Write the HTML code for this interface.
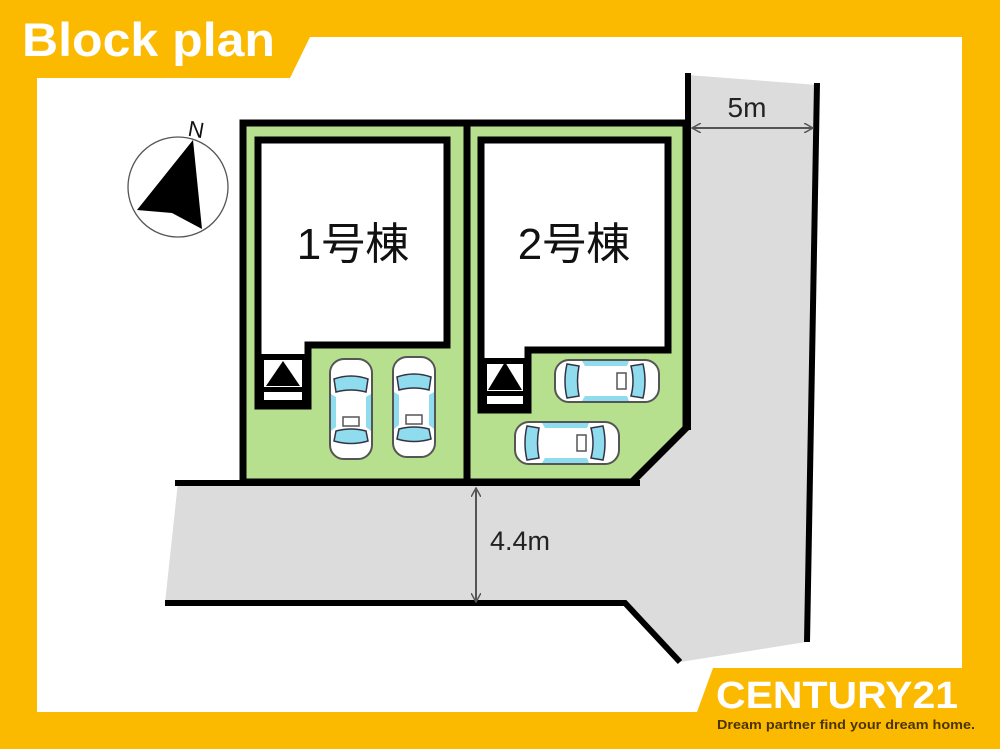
<!DOCTYPE html>
<html><head><meta charset="utf-8"><style>
html,body{margin:0;padding:0;width:1000px;height:749px;overflow:hidden;background:#FBB900}
svg{display:block}
</style></head><body>
<svg width="1000" height="749" viewBox="0 0 1000 749" xmlns="http://www.w3.org/2000/svg">
<defs>
<g id="carV">
  <rect x="-21" y="-50" width="42" height="100" rx="14" fill="#fff" stroke="#555" stroke-width="2"/>
  <path d="M-17,-30 Q0,-36 17,-30 L15,-17 Q0,-21 -15,-17 Z" fill="#8fdcef" stroke="#334" stroke-width="1.5"/>
  <path d="M-15,22 Q0,18 15,22 L17,32 Q0,37 -17,32 Z" fill="#8fdcef" stroke="#334" stroke-width="1.5"/>
  <path d="M-20,-15 L-15,-12 L-15,18 L-20,22 Z" fill="#8fdcef"/>
  <path d="M20,-15 L15,-12 L15,18 L20,22 Z" fill="#8fdcef"/>
  <rect x="-8" y="8" width="16" height="9" fill="#fff" stroke="#555" stroke-width="1.5"/>
</g>
<g id="carH">
  <rect x="-52" y="-21" width="104" height="42" rx="14" fill="#fff" stroke="#555" stroke-width="2"/>
  <path d="M-40,-17 Q-44,0 -40,17 L-28,15 Q-31,0 -28,-15 Z" fill="#8fdcef" stroke="#334" stroke-width="1.5"/>
  <path d="M24,-15 Q28,0 24,15 L36,17 Q40,0 36,-17 Z" fill="#8fdcef" stroke="#334" stroke-width="1.5"/>
  <path d="M-25,-20 L22,-20 L20,-15 L-22,-15 Z" fill="#8fdcef"/>
  <path d="M-25,20 L22,20 L20,15 L-22,15 Z" fill="#8fdcef"/>
  <rect x="10" y="-8" width="9" height="16" fill="#fff" stroke="#555" stroke-width="1.5"/>
</g>
<marker id="ar" viewBox="0 0 10 10" refX="9" refY="5" markerWidth="10" markerHeight="10" orient="auto-start-reverse" markerUnits="userSpaceOnUse"><path d="M0,0 L9,5 L0,10" fill="none" stroke="#555" stroke-width="1.5"/></marker>
</defs>
<polygon points="37,78 290,78 310,37 962,37 962,668 713,668 697,712 37,712" fill="#fff"/>
<polygon points="178,482 632,482 686,428 688,75 818,85 806,642 680,662 625,603 165,603" fill="#dcdcdc"/>
<rect x="240" y="120" width="227" height="362" fill="#b7e08e"/>
<polygon points="467,120 686,120 686,428 632,482 467,482" fill="#b7e08e"/>
<polygon points="258,140 447,140 447,345 308,345 308,406 258,406" fill="#fff" stroke="#000" stroke-width="7"/>
<polygon points="481,140 668,140 668,350 528,350 528,410 481,410" fill="#fff" stroke="#000" stroke-width="7"/>
<rect x="259" y="354" width="48" height="51" fill="#000"/>
<rect x="264" y="360" width="38" height="27" fill="#fff"/>
<polygon points="283,361 266,386 300,386" fill="#000"/>
<rect x="264" y="392" width="38" height="8" fill="#fff"/>
<rect x="482" y="358" width="46" height="52" fill="#000"/>
<rect x="487" y="364" width="36" height="27" fill="#fff"/>
<polygon points="505,362 488,390 522,390" fill="#000"/>
<rect x="487" y="396" width="36" height="8" fill="#fff"/>
<rect x="243" y="123" width="224" height="359" fill="none" stroke="#000" stroke-width="7"/>
<polyline points="467,123 686,123 686,428 632,482 467,482" fill="none" stroke="#000" stroke-width="7"/>
<line x1="467" y1="120" x2="467" y2="485" stroke="#000" stroke-width="7"/>
<line x1="175" y1="483" x2="640" y2="483" stroke="#000" stroke-width="6"/>
<polyline points="165,603 625,603 680,662" fill="none" stroke="#000" stroke-width="6"/>
<line x1="688" y1="73" x2="688" y2="430" stroke="#000" stroke-width="6"/>
<line x1="817" y1="83" x2="807" y2="642" stroke="#000" stroke-width="6"/>
<use href="#carV" x="351" y="409"/>
<use href="#carV" x="414" y="407"/>
<use href="#carH" x="607" y="381"/>
<use href="#carH" x="567" y="443"/>
<text x="353" y="259" font-family="Liberation Sans, Noto Sans CJK JP, sans-serif" font-size="44" text-anchor="middle" fill="#111">1号棟</text>
<text x="574" y="259" font-family="Liberation Sans, Noto Sans CJK JP, sans-serif" font-size="44" text-anchor="middle" fill="#111">2号棟</text>
<line x1="692" y1="128" x2="813" y2="128" stroke="#555" stroke-width="2" marker-start="url(#ar)" marker-end="url(#ar)"/>
<text x="747" y="117" font-family="Liberation Sans, sans-serif" font-size="28" text-anchor="middle" fill="#222">5m</text>
<line x1="476" y1="488" x2="476" y2="602" stroke="#555" stroke-width="2" marker-start="url(#ar)" marker-end="url(#ar)"/>
<text x="490" y="550" font-family="Liberation Sans, sans-serif" font-size="27" fill="#222">4.4m</text>
<circle cx="178" cy="187" r="50" fill="#fff" stroke="#555" stroke-width="1.3"/>
<polygon points="193,140 137,210 172,213 202,229" fill="#000"/>
<text x="196" y="137" font-family="Liberation Sans, sans-serif" font-size="22" text-anchor="middle" fill="#111" transform="rotate(10 196 130)">N</text>
<text x="22" y="56" font-family="Liberation Sans, sans-serif" font-weight="bold" font-size="47" fill="#fff" textLength="253" lengthAdjust="spacingAndGlyphs">Block plan</text>
<text x="716" y="708" font-family="Liberation Sans, sans-serif" font-weight="bold" font-size="38" fill="#fff" textLength="242" lengthAdjust="spacingAndGlyphs">CENTURY21</text>
<text x="717" y="729" font-family="Liberation Sans, sans-serif" font-weight="bold" font-size="12.5" fill="#4a3500" textLength="258" lengthAdjust="spacingAndGlyphs">Dream partner find your dream home.</text>
</svg>
</body></html>
